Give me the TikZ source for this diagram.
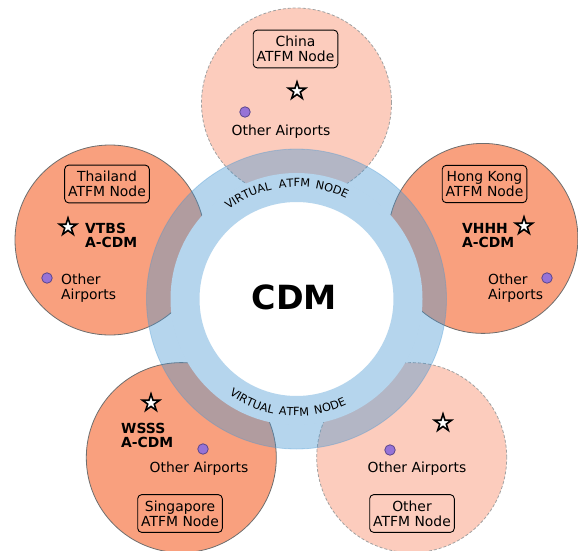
\documentclass[tikz,border=0pt]{standalone}
\usepackage{fontspec}
\setmainfont{DejaVu Sans}
\usetikzlibrary{shapes.geometric,decorations.text}
\definecolor{salmondark}{RGB}{249,160,126}
\definecolor{salmonlight}{RGB}{252,204,189}
\definecolor{ringblue}{RGB}{70,150,210}
\definecolor{dotpurple}{RGB}{150,115,215}
\definecolor{dotedge}{RGB}{90,70,140}
\definecolor{edgegrey}{RGB}{110,110,110}
\newcommand\lblfont{\fontsize{13.9}{15}\selectfont}
\newcommand\boldlblfont{\fontsize{13.9}{14.5}\selectfont\bfseries}
\newcommand\ringfont{\fontsize{11.3}{13}\selectfont}
\begin{document}
\begin{tikzpicture}[x=1pt,y=-1pt,
  zone/.style={circle, minimum size=190pt, inner sep=0pt, fill=salmondark, draw=edgegrey, line width=0.8pt},
  zonelight/.style={circle, minimum size=190pt, inner sep=0pt, fill=salmonlight, draw=edgegrey!65, line width=0.8pt, dash pattern=on 3pt off 2pt},
  atfmbox/.style={draw=black, rounded corners=4pt, line width=0.9pt, inner xsep=3.5pt, inner ysep=6pt, align=center, font=\lblfont},
  airport/.style={star, star points=5, star point ratio=2.618, minimum size=18pt, inner sep=0pt, draw=black, fill=white, line width=1.6pt},
  otherdot/.style={circle, minimum size=10.5pt, inner sep=0pt, fill=dotpurple, draw=dotedge, line width=0.8pt},
  lbl/.style={font=\lblfont, inner sep=0pt},
  boldlbl/.style={font=\boldlblfont, inner sep=0pt, align=left, anchor=west},
  ringword/.style={decorate, decoration={text along path, text align=center, text={|\ringfont|#1}}},
]
\useasboundingbox (0,0) rectangle (578,551);
\coordinate (ringc) at (296.5,299);

% zones
\node[zonelight] (china) at (296.5,103) {};
\node[zone] (thai) at (110,240) {};
\node[zone] (hk) at (482.9,238.4) {};
\node[zone] (sing) at (181.3,457.6) {};
\node[zonelight] (other) at (411.7,457.6) {};

% central cut-out and ring
\fill[white] (ringc) circle[radius=126pt];
\fill[ringblue, fill opacity=0.4, even odd rule] (ringc) circle[radius=150pt] (ringc) circle[radius=97pt];
\draw[ringblue, draw opacity=0.35, line width=0.8pt] (ringc) circle[radius=150pt];

% ring labels
\path[ringword=VIRTUAL] (ringc) ++(130:112pt) arc[start angle=130, end angle=100, radius=112pt];
\path[ringword=ATFM] (ringc) ++(106:112pt) arc[start angle=106, end angle=76, radius=112pt];
\path[ringword=NODE] (ringc) ++(87:112pt) arc[start angle=87, end angle=57, radius=112pt];
\path[ringword=VIRTUAL] (ringc) ++(231.6:117pt) arc[start angle=231.6, end angle=261.6, radius=117pt];
\path[ringword=ATFM] (ringc) ++(253.8:117pt) arc[start angle=253.8, end angle=283.8, radius=117pt];
\path[ringword=NODE] (ringc) ++(272.2:117pt) arc[start angle=272.2, end angle=302.2, radius=117pt];

\node[font=\fontsize{33.3}{40}\selectfont\bfseries, inner sep=0pt, anchor=base] (cdm) at (294.5,309) {CDM};

% China
\node[atfmbox] (chinabox) at (295.5,49) {China\\ATFM Node};
\node[airport] (chinastar) at (297,91) {};
\node[otherdot] (chinadot) at (245,112) {};
\node[lbl, anchor=base] (chinaother) at (281,135) {Other Airports};

% Thailand
\node[atfmbox] (thaibox) at (107,184) {Thailand\\ATFM Node};
\node[airport] (thaistar) at (68,227) {};
\node[boldlbl] (thaiacdm) at (85,235.5) {VTBS\\A-CDM};
\node[otherdot] (thaidot) at (47,278) {};
\node[lbl, align=left, anchor=west] (thaiother) at (61,287.7) {Other\\Airports};

% Hong Kong
\node[atfmbox] (hkbox) at (484.5,184) {Hong Kong\\ATFM Node};
\node[airport] (hkstar) at (524,226) {};
\node[boldlbl] (hkacdm) at (462,235.5) {VHHH\\A-CDM};
\node[otherdot] (hkdot) at (547,278) {};
\node[lbl, align=left, anchor=west] (hkother) at (488,287.7) {Other\\Airports};

% Singapore
\node[airport] (singstar) at (151,403) {};
\node[boldlbl] (singacdm) at (121,435.2) {WSSS\\A-CDM};
\node[otherdot] (singdot) at (203,449) {};
\node[lbl, anchor=base] (singother) at (199,472.5) {Other Airports};
\node[atfmbox] (singbox) at (180,513.5) {Singapore\\ATFM Node};

% Other
\node[airport] (otherstar) at (443,423) {};
\node[otherdot] (otherdot) at (390,450) {};
\node[lbl, anchor=base] (otherother) at (417,472.5) {Other Airports};
\node[atfmbox] (otherbox) at (412,513.5) {Other\\ATFM Node};
\end{tikzpicture}
\end{document}
